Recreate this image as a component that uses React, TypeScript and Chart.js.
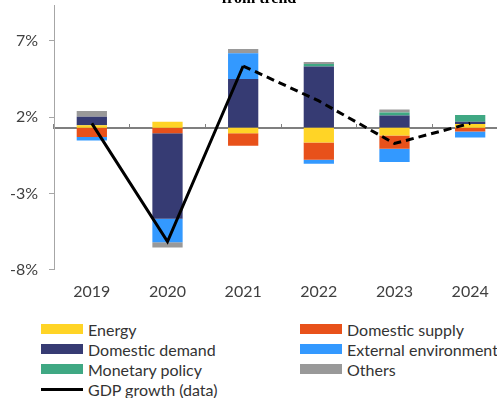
import React, { useEffect, useRef } from "react";
import { Chart, registerables } from "chart.js";

Chart.register(...registerables);

// ---- data ----
const years = ["2019", "2020", "2021", "2022", "2023", "2024"];
const energy = [0.15, 0.38, -0.37, -0.98, -0.52, 0.24];
const domesticSupply = [-0.61, -0.37, -0.81, -1.13, -0.87, -0.26];
const domesticDemand = [0.57, -5.61, 3.19, 4.0, 0.79, 0.15];
const externalEnvironment = [-0.24, -1.53, 1.68, -0.26, -0.87, -0.39];
const monetaryPolicy = [0, 0, 0, 0.17, 0.2, 0.44];
const others = [0.37, -0.35, 0.28, 0.13, 0.2, 0];
const gdpGrowth = [1.6, -6.15, 5.36, 3.07, 0.28, 1.6];
const trendGrowth = 1.32; // horizontal axis crosses here; bars start from it
const lastActualIndex = 2; // line becomes dashed after this point
const yTicks = [-8, -3, 2, 7];
const titleText = "from trend";

const series = [
  { label: "Energy", values: energy, color: "#FFD426" },
  { label: "Domestic supply", values: domesticSupply, color: "#E8511A" },
  { label: "Domestic demand", values: domesticDemand, color: "#363B73" },
  { label: "External environment", values: externalEnvironment, color: "#3399FF" },
  { label: "Monetary policy", values: monetaryPolicy, color: "#3FA883" },
  { label: "Others", values: others, color: "#999999" },
];

const legendItems = [
  { label: "Energy", color: "#FFD426", col: 0, row: 0 },
  { label: "Domestic supply", color: "#E8511A", col: 1, row: 0 },
  { label: "Domestic demand", color: "#363B73", col: 0, row: 1 },
  { label: "External environment", color: "#3399FF", col: 1, row: 1 },
  { label: "Monetary policy", color: "#3FA883", col: 0, row: 2 },
  { label: "Others", color: "#999999", col: 1, row: 2 },
];

const FONT = "Lato, 'DejaVu Sans', sans-serif";

function buildBarDatasets() {
  const posTop = years.map(() => trendGrowth);
  const negBottom = years.map(() => trendGrowth);
  return series.map((s) => ({
    type: "bar" as const,
    label: s.label,
    data: s.values.map((v, i) => {
      if (v === 0) return null;
      if (v > 0) {
        const r = [posTop[i], posTop[i] + v];
        posTop[i] += v;
        return r;
      }
      const r = [negBottom[i] + v, negBottom[i]];
      negBottom[i] += v;
      return r;
    }),
    backgroundColor: s.color,
    borderWidth: 0,
    grouped: false,
    barPercentage: 0.4,
    categoryPercentage: 1,
    order: 2,
    xAxisID: "x",
    yAxisID: "y",
  }));
}

export default function App() {
  const canvasRef = useRef<HTMLCanvasElement | null>(null);

  useEffect(() => {
    if (!canvasRef.current) return;
    const chart = new Chart(canvasRef.current, {
      data: {
        labels: years,
        datasets: [
          {
            type: "line" as const,
            label: "GDP growth (data)",
            data: gdpGrowth,
            borderColor: "#000000",
            borderWidth: 3,
            pointRadius: 0,
            tension: 0,
            fill: false,
            order: 0,
            segment: {
              borderDash: (ctx: any) => (ctx.p0DataIndex >= lastActualIndex ? [8, 5] : undefined),
            },
          } as any,
          ...(buildBarDatasets() as any[]),
        ],
      },
      options: {
        responsive: false,
        animation: false,
        layout: { padding: { top: 0, left: 10, right: 4, bottom: 1 } },
        plugins: {
          legend: { display: false },
          tooltip: { enabled: false },
          title: {
            display: true,
            text: titleText,
            color: "#000000",
            font: { family: "'Liberation Serif', serif", size: 16, weight: "bold", lineHeight: 0.6 },
            padding: { top: 14.1, bottom: 1.3 },
          },
        },
        scales: {
          x: {
            type: "category",
            position: "bottom",
            offset: true,
            grid: { display: false, drawTicks: false },
            border: { display: false },
            ticks: { color: "#404040", font: { family: FONT, size: 16 }, padding: 12 },
            afterFit: (scale: any) => {
              scale.height = 31.2;
            },
          },
          x2: {
            type: "category",
            position: { y: trendGrowth } as any,
            offset: true,
            z: 1,
            grid: {
              display: true,
              drawOnChartArea: false,
              drawTicks: true,
              tickLength: -5,
              offset: true,
              color: "#808080",
              lineWidth: 1,
            },
            border: { display: true, color: "#7F7F7F", width: 2 },
            ticks: { display: false },
          },
          y: {
            type: "linear",
            position: "left",
            min: -8,
            max: 9.36,
            afterBuildTicks: (scale: any) => {
              scale.ticks = yTicks.map((v) => ({ value: v }));
            },
            afterFit: (scale: any) => {
              scale.width = 44;
            },
            grid: {
              display: true,
              drawOnChartArea: false,
              drawTicks: true,
              tickLength: 5,
              color: "#A6A6A6",
            },
            border: { display: true, color: "#A6A6A6", width: 1 },
            ticks: {
              color: "#404040",
              font: { family: FONT, size: 16 },
              padding: 11,
              callback: (v: any) => `${v}%`,
            },
          },
        },
      } as any,
    });
    return () => chart.destroy();
  }, []);

  return (
    <div
      style={{
        position: "fixed",
        left: 0,
        top: 0,
        width: 497,
        height: 398,
        overflow: "hidden",
        background: "#ffffff",
      }}
    >
      <canvas
        ref={canvasRef}
        width={512}
        height={322}
        style={{ position: "absolute", left: 0, top: -20, width: 512, height: 322 }}
      />
      {legendItems.map((it) => (
        <div
          key={it.label}
          style={{
            position: "absolute",
            left: it.col === 0 ? 41 : 300,
            top: 319 + it.row * 20,
            height: 20,
            display: "flex",
            alignItems: "center",
            whiteSpace: "nowrap",
            fontFamily: FONT,
            fontSize: 16,
            color: "#333333",
          }}
        >
          <span style={{ display: "inline-block", width: 42, height: 10, background: it.color, marginRight: 5 }} />
          <span>{it.label}</span>
        </div>
      ))}
      <div
        style={{
          position: "absolute",
          left: 41,
          top: 379,
          height: 20,
          display: "flex",
          alignItems: "center",
          whiteSpace: "nowrap",
          fontFamily: FONT,
          fontSize: 16,
          color: "#333333",
        }}
      >
        <span style={{ display: "inline-block", width: 42, height: 3, background: "#000000", marginRight: 5 }} />
        <span>GDP growth (data)</span>
      </div>
    </div>
  );
}
